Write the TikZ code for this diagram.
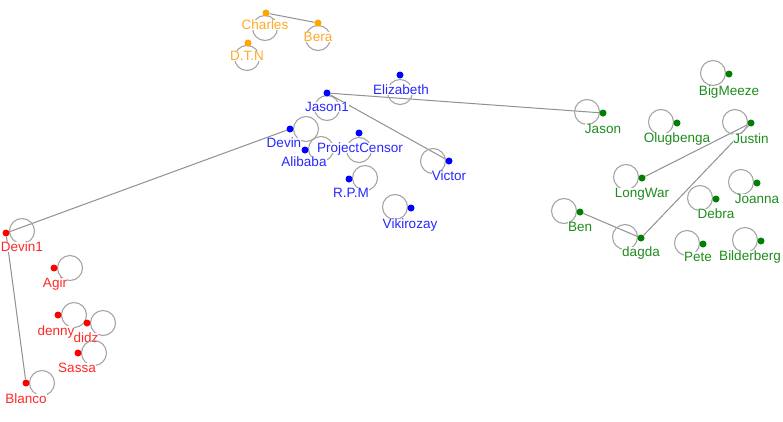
\documentclass[tikz,border=0pt]{standalone}
\usepackage{fontspec}
\setmainfont{Liberation Sans}
\usetikzlibrary{backgrounds}
\definecolor{vorange}{RGB}{255,165,0}
\definecolor{vblue}{RGB}{0,0,255}
\definecolor{vred}{RGB}{255,0,0}
\definecolor{vgreen}{RGB}{0,128,0}
\definecolor{lorange}{RGB}{255,170,40}
\definecolor{lblue}{RGB}{40,40,255}
\definecolor{lred}{RGB}{255,40,40}
\definecolor{lgreen}{RGB}{30,140,30}
\definecolor{edgegray}{RGB}{145,145,145}
\definecolor{loopgray}{RGB}{165,165,165}
% #1 name, #2 dot colour, #3 label colour, #4 dot pos, #5 loop centre, #6 label pos, #7 text
\newcommand\myvtx[7]{%
  \draw[loopline] (#5) circle[radius=12.5pt];
  \node[dotnode,fill=#2] (#1) at (#4) {};
  \node[lbl,text=#3] (#1-lab) at (#6) {#7};
}
\begin{document}
\begin{tikzpicture}[x=1pt,y=-1pt,
  dotnode/.style={circle,inner sep=0pt,minimum size=7pt,draw=none},
  lbl/.style={font=\fontsize{13.5}{14}\selectfont,inner sep=0pt,text height=9.7pt,text depth=0pt,fill=white},
  loopline/.style={draw=loopgray,line width=1.1pt},
  edgeline/.style={draw=edgegray,line width=1pt}]
\begin{scope}[on background layer]
\fill[white] (0,0) rectangle (783,421);
\end{scope}
\useasboundingbox (0,0) rectangle (783,421);
% orange
\myvtx{charles}{vorange}{lorange}{266,13}{265,28}{265,25}{Charles}
\myvtx{bera}{vorange}{lorange}{318,23}{318,38}{318,37}{Bera}
\myvtx{dtn}{vorange}{lorange}{248,43}{247,58}{247,56}{D.T.N}
% blue
\myvtx{elizabeth}{vblue}{lblue}{400,75}{400,92}{401,90}{Elizabeth}
\myvtx{jasonone}{vblue}{lblue}{327,93}{327,108}{327,107}{Jason1}
\myvtx{devin}{vblue}{lblue}{290,129}{306,129}{284,143}{Devin}
\myvtx{alibaba}{vblue}{lblue}{305,150}{321,149}{304,162}{Alibaba}
\myvtx{projectcensor}{vblue}{lblue}{359,133}{359,150}{360,148}{ProjectCensor}
\myvtx{rpm}{vblue}{lblue}{349,179}{365,178}{351,193}{R.P.M}
\myvtx{vikirozay}{vblue}{lblue}{411,208}{395,207}{410,224}{Vikirozay}
\myvtx{victor}{vblue}{lblue}{449,161}{433,161}{449,176}{Victor}
% green
\myvtx{bigmeeze}{vgreen}{lgreen}{729,74}{713,73}{729,91}{BigMeeze}
\myvtx{jason}{vgreen}{lgreen}{603,113}{587,112}{603,129}{Jason}
\myvtx{olugbenga}{vgreen}{lgreen}{677,123}{661,122}{677,138}{Olugbenga}
\myvtx{justin}{vgreen}{lgreen}{751,123}{735,122}{751,139}{Justin}
\myvtx{longwar}{vgreen}{lgreen}{642,178}{626,177}{642,193}{LongWar}
\myvtx{joanna}{vgreen}{lgreen}{757,183}{741,182}{757,199}{Joanna}
\myvtx{debra}{vgreen}{lgreen}{716,199}{700,198}{716,214}{Debra}
\myvtx{ben}{vgreen}{lgreen}{580,212}{564,211}{580,227}{Ben}
\myvtx{dagda}{vgreen}{lgreen}{641,238}{625,237}{641,252}{dagda}
\myvtx{pete}{vgreen}{lgreen}{703,244}{687,243}{698,257}{Pete}
\myvtx{bilderberg}{vgreen}{lgreen}{761,241}{745,240}{750,256}{Bilderberg}
% red
\myvtx{devinone}{vred}{lred}{6,233}{22,231}{22,247}{Devin1}
\myvtx{agir}{vred}{lred}{54,268}{70,268}{55,283}{Agir}
\myvtx{denny}{vred}{lred}{58,315}{74,315}{56,331}{denny}
\myvtx{didz}{vred}{lred}{87,323}{103,323}{86,338}{didz}
\myvtx{sassa}{vred}{lred}{78,353}{94,353}{77,368}{Sassa}
\myvtx{blanco}{vred}{lred}{26,383}{42,383}{26,399}{Blanco}
% edges
\begin{scope}[on background layer]
\draw[edgeline] (charles) -- (bera);
\draw[edgeline] (jasonone) -- (jason);
\draw[edgeline] (jasonone) -- (victor);
\draw[edgeline] (devin) -- (devinone);
\draw[edgeline] (devinone) -- (blanco);
\draw[edgeline] (justin) -- (longwar);
\draw[edgeline] (justin) -- (dagda);
\draw[edgeline] (ben) -- (dagda);
\end{scope}
\end{tikzpicture}
\end{document}
